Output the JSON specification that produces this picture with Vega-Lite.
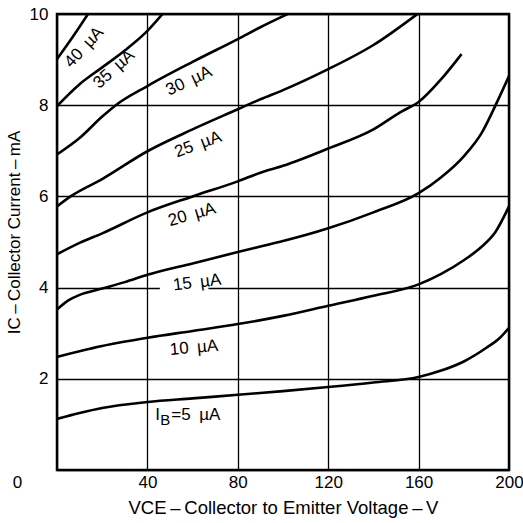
{
  "$schema": "https://vega.github.io/schema/vega-lite/v6.json",
  "width": 452,
  "height": 456,
  "autosize": "none",
  "padding": {"left": 57, "top": 14, "right": 14, "bottom": 53},
  "background": "white",
  "config": {
    "font": "Liberation Sans",
    "view": {"stroke": "black", "strokeWidth": 2.5},
    "axis": {
      "grid": true, "gridColor": "black", "gridOpacity": 1, "gridWidth": 1.3,
      "ticks": false, "domain": false,
      "labelColor": "black", "labelFontSize": 17, "labelFlush": false,
      "titleColor": "black", "titleFontSize": 17, "titleFontWeight": "normal"
    }
  },
  "datasets": {
    "curves": [
      {"s": "5", "v": 0, "i": 1.12}, {"s": "5", "v": 10, "i": 1.25}, {"s": "5", "v": 20, "i": 1.36}, {"s": "5", "v": 40, "i": 1.49}, {"s": "5", "v": 60, "i": 1.57}, {"s": "5", "v": 80, "i": 1.65}, {"s": "5", "v": 100, "i": 1.73}, {"s": "5", "v": 120, "i": 1.82}, {"s": "5", "v": 140, "i": 1.92}, {"s": "5", "v": 160, "i": 2.04}, {"s": "5", "v": 170, "i": 2.18}, {"s": "5", "v": 180, "i": 2.38}, {"s": "5", "v": 190, "i": 2.68}, {"s": "5", "v": 196, "i": 2.9}, {"s": "5", "v": 200, "i": 3.12},
      {"s": "10", "v": 0, "i": 2.48}, {"s": "10", "v": 20, "i": 2.72}, {"s": "10", "v": 40, "i": 2.9}, {"s": "10", "v": 60, "i": 3.05}, {"s": "10", "v": 80, "i": 3.2}, {"s": "10", "v": 100, "i": 3.38}, {"s": "10", "v": 120, "i": 3.6}, {"s": "10", "v": 140, "i": 3.82}, {"s": "10", "v": 160, "i": 4.07}, {"s": "10", "v": 170, "i": 4.3}, {"s": "10", "v": 180, "i": 4.6}, {"s": "10", "v": 188, "i": 4.9}, {"s": "10", "v": 194, "i": 5.22}, {"s": "10", "v": 200, "i": 5.78},
      {"s": "15", "v": 0, "i": 3.52}, {"s": "15", "v": 5, "i": 3.72}, {"s": "15", "v": 10, "i": 3.84}, {"s": "15", "v": 20, "i": 3.98}, {"s": "15", "v": 30, "i": 4.12}, {"s": "15", "v": 40, "i": 4.28}, {"s": "15", "v": 60, "i": 4.53}, {"s": "15", "v": 80, "i": 4.78}, {"s": "15", "v": 90, "i": 4.9}, {"s": "15", "v": 100, "i": 5.02}, {"s": "15", "v": 120, "i": 5.3}, {"s": "15", "v": 140, "i": 5.65}, {"s": "15", "v": 160, "i": 6.07}, {"s": "15", "v": 170, "i": 6.42}, {"s": "15", "v": 180, "i": 6.88}, {"s": "15", "v": 188, "i": 7.4}, {"s": "15", "v": 195, "i": 8.1}, {"s": "15", "v": 200, "i": 8.64},
      {"s": "20", "v": 0, "i": 4.73}, {"s": "20", "v": 10, "i": 4.98}, {"s": "20", "v": 20, "i": 5.19}, {"s": "20", "v": 40, "i": 5.65}, {"s": "20", "v": 60, "i": 6.0}, {"s": "20", "v": 80, "i": 6.33}, {"s": "20", "v": 90, "i": 6.52}, {"s": "20", "v": 100, "i": 6.67}, {"s": "20", "v": 120, "i": 7.05}, {"s": "20", "v": 140, "i": 7.47}, {"s": "20", "v": 152, "i": 7.85}, {"s": "20", "v": 160, "i": 8.07}, {"s": "20", "v": 170, "i": 8.57}, {"s": "20", "v": 179, "i": 9.12},
      {"s": "25", "v": 0, "i": 5.78}, {"s": "25", "v": 6, "i": 6.0}, {"s": "25", "v": 20, "i": 6.38}, {"s": "25", "v": 40, "i": 6.99}, {"s": "25", "v": 60, "i": 7.47}, {"s": "25", "v": 80, "i": 7.91}, {"s": "25", "v": 90, "i": 8.13}, {"s": "25", "v": 100, "i": 8.33}, {"s": "25", "v": 120, "i": 8.79}, {"s": "25", "v": 140, "i": 9.32}, {"s": "25", "v": 160, "i": 10.02},
      {"s": "30", "v": 0, "i": 6.92}, {"s": "30", "v": 10, "i": 7.28}, {"s": "30", "v": 20, "i": 7.75}, {"s": "30", "v": 26, "i": 8.0}, {"s": "30", "v": 40, "i": 8.42}, {"s": "30", "v": 60, "i": 8.95}, {"s": "30", "v": 80, "i": 9.45}, {"s": "30", "v": 90, "i": 9.71}, {"s": "30", "v": 103, "i": 10.02},
      {"s": "35", "v": 0, "i": 7.98}, {"s": "35", "v": 10, "i": 8.46}, {"s": "35", "v": 20, "i": 8.83}, {"s": "35", "v": 30, "i": 9.2}, {"s": "35", "v": 40, "i": 9.63}, {"s": "35", "v": 47, "i": 10.02},
      {"s": "40", "v": 0, "i": 9.01}, {"s": "40", "v": 7, "i": 9.5}, {"s": "40", "v": 14, "i": 10.02}
    ],
    "labels": [
      {"label": "40\u2002µA", "v": 12, "i": 9.27},
      {"label": "35\u2002µA", "v": 25.2, "i": 8.79},
      {"label": "30\u2002µA", "v": 58.4, "i": 8.53},
      {"label": "25\u2002µA", "v": 62.4, "i": 7.14},
      {"label": "20\u2002µA", "v": 59.7, "i": 5.6},
      {"label": "15\u2002µA", "v": 62, "i": 4.11},
      {"label": "10\u2002µA", "v": 60.6, "i": 2.68},
      {"label": "IB=5\u2002µA", "v": 59, "i": 1.2}
    ],
    "masks": [
      {"v": 45.5, "v2": 67, "i": 3.93, "i2": 4.07}
    ]
  },
  "encoding": {
    "x": {
      "field": "v", "type": "quantitative",
      "scale": {"domain": [0, 200], "nice": false, "zero": false},
      "axis": {
        "values": [0, 40, 80, 120, 160, 200],
        "labelPadding": 4,
        "labelOffset": {"condition": {"test": "datum.value == 0", "value": -40}, "value": 0},
        "title": "VCE\u2009–\u2009Collector to Emitter Voltage\u2009–\u2009V",
        "titleFontSize": 18.5,
        "titlePadding": 8
      }
    },
    "y": {
      "field": "i", "type": "quantitative",
      "scale": {"domain": [0, 10], "nice": false, "zero": false},
      "axis": {
        "values": [0, 2, 4, 6, 8, 10],
        "labelExpr": "datum.value == 0 ? '' : datum.label",
        "labelPadding": 9,
        "title": "IC\u2009–\u2009Collector Current\u2009–\u2009mA",
        "titleY": 218,
        "titlePadding": 6
      }
    }
  },
  "layer": [
    {
      "data": {"name": "masks"},
      "mark": {"type": "rect", "color": "white"},
      "encoding": {"x2": {"field": "v2"}, "y2": {"field": "i2"}}
    },
    {
      "data": {"name": "curves"},
      "mark": {"type": "line", "color": "black", "strokeWidth": 2.6, "interpolate": "monotone", "clip": true},
      "encoding": {"detail": {"field": "s", "type": "nominal"}}
    },
    {
      "data": {"name": "labels"},
      "transform": [{"filter": "datum.label == '40\u2002µA'"}],
      "mark": {"type": "text", "fontSize": 17, "angle": -47, "color": "black"},
      "encoding": {"text": {"field": "label"}}
    },
    {
      "data": {"name": "labels"},
      "transform": [{"filter": "datum.label == '35\u2002µA'"}],
      "mark": {"type": "text", "fontSize": 17, "angle": -42, "color": "black"},
      "encoding": {"text": {"field": "label"}}
    },
    {
      "data": {"name": "labels"},
      "transform": [{"filter": "datum.label == '30\u2002µA'"}],
      "mark": {"type": "text", "fontSize": 17, "angle": -25, "color": "black"},
      "encoding": {"text": {"field": "label"}}
    },
    {
      "data": {"name": "labels"},
      "transform": [{"filter": "datum.label == '25\u2002µA'"}],
      "mark": {"type": "text", "fontSize": 17, "angle": -20, "color": "black"},
      "encoding": {"text": {"field": "label"}}
    },
    {
      "data": {"name": "labels"},
      "transform": [{"filter": "datum.label == '20\u2002µA'"}],
      "mark": {"type": "text", "fontSize": 17, "angle": -16, "color": "black"},
      "encoding": {"text": {"field": "label"}}
    },
    {
      "data": {"name": "labels"},
      "transform": [{"filter": "datum.label == '15\u2002µA'"}],
      "mark": {"type": "text", "fontSize": 17, "angle": -7, "color": "black"},
      "encoding": {"text": {"field": "label"}}
    },
    {
      "data": {"name": "labels"},
      "transform": [{"filter": "datum.label == '10\u2002µA'"}],
      "mark": {"type": "text", "fontSize": 17, "angle": -5, "color": "black"},
      "encoding": {"text": {"field": "label"}}
    },
    {
      "data": {"name": "labels"},
      "transform": [{"filter": "datum.label == 'IB=5\u2002µA'"}],
      "mark": {"type": "text", "fontSize": 17, "color": "black", "align": "left", "dx": -35},
      "encoding": {"text": {"value": "I"}}
    },
    {
      "data": {"name": "labels"},
      "transform": [{"filter": "datum.label == 'IB=5\u2002µA'"}],
      "mark": {"type": "text", "fontSize": 15, "color": "black", "align": "left", "dx": -30, "dy": 5},
      "encoding": {"text": {"value": "B"}}
    },
    {
      "data": {"name": "labels"},
      "transform": [{"filter": "datum.label == 'IB=5\u2002µA'"}],
      "mark": {"type": "text", "fontSize": 17, "color": "black", "align": "left", "dx": -19},
      "encoding": {"text": {"value": "=5\u2002µA"}}
    }
  ]
}
